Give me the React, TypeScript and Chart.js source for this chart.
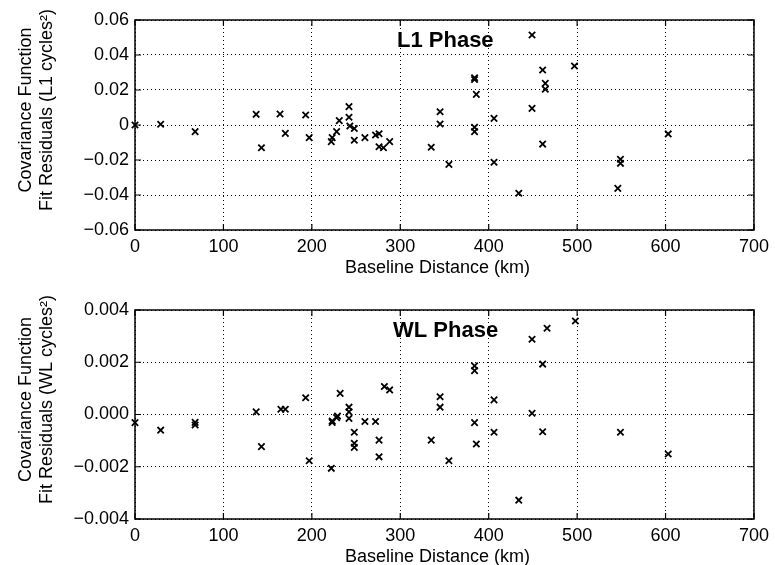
import React, { useEffect, useRef } from "react";
import { Chart, registerables } from "chart.js";

Chart.register(...registerables);

// ---------- data ----------
const kmL1 = [0, 29, 68, 137, 143, 164, 170, 193, 197, 222, 223, 228, 231, 242, 242, 243, 248, 248, 260, 272, 276, 276, 281, 288, 335, 345, 345, 355, 384, 384, 386, 384, 384, 406, 406, 434, 449, 449, 461, 464, 464, 461, 497, 549, 549, 546, 603];
const resL1 = [0, 0.0004, -0.0038, 0.0061, -0.013, 0.0063, -0.0048, 0.0057, -0.0072, -0.0095, -0.0072, -0.0038, 0.0025, 0.0105, 0.0044, -0.0006, -0.002, -0.0087, -0.0072, -0.0057, -0.005, -0.0124, -0.013, -0.0095, -0.0127, 0.0076, 0.0006, -0.0225, 0.027, 0.026, 0.0175, -0.0013, -0.0038, 0.0038, -0.0213, -0.039, 0.0514, 0.0095, 0.0314, 0.0238, 0.0204, -0.0109, 0.0337, -0.0196, -0.0219, -0.0362, -0.0051];

const kmWL = [0, 29, 68, 68, 137, 143, 165, 170, 193, 197, 222, 223, 223, 228, 229, 232, 242, 242, 242, 248, 248, 248, 260, 272, 276, 276, 282, 288, 335, 345, 345, 355, 384, 384, 384, 386, 406, 406, 434, 449, 449, 466, 461, 461, 498, 549, 603];
const resWL = [-0.00031, -0.0006, -0.0003, -0.0004, 0.0001, -0.00123, 0.0002, 0.0002, 0.00064, -0.00177, -0.00206, -0.0003, -0.00025, -0.00012, -0.00006, 0.00081, 0.00028, 0.0001, -0.00015, -0.00068, -0.0011, -0.00126, -0.00027, -0.00027, -0.00098, -0.00162, 0.00107, 0.00094, -0.00098, 0.00068, 0.00028, -0.00177, 0.00186, 0.00168, -0.00031, -0.00113, 0.00056, -0.00068, -0.00328, 0.00288, 0.00005, 0.0033, 0.00193, -0.00066, 0.00358, -0.00068, -0.00151];

const xTicks = [0, 100, 200, 300, 400, 500, 600, 700];
const xTickLabels = ["0", "100", "200", "300", "400", "500", "600", "700"];

const yTicksL1 = [-0.06, -0.04, -0.02, 0, 0.02, 0.04, 0.06];
const yTickLabelsL1 = ["\u22120.06", "\u22120.04", "\u22120.02", "0", "0.02", "0.04", "0.06"];

const yTicksWL = [-0.004, -0.002, 0, 0.002, 0.004];
const yTickLabelsWL = ["\u22120.004", "\u22120.002", "0.000", "0.002", "0.004"];

const xTitle = "Baseline Distance (km)";
const yTitleL1 = ["Covariance Function", "Fit Residuals (L1 cycles\u00B2)"];
const yTitleWL = ["Covariance Function", "Fit Residuals (WL cycles\u00B2)"];

const FONT = "'Liberation Sans', Arial, Helvetica, sans-serif";

type PanelProps = {
  km: number[];
  res: number[];
  yTicks: number[];
  yLabels: string[];
  yTitle: string[];
  label: string;
  labelX: number; // left edge of label in px from chart left
  labelBaseline: number; // px from chart top
  top: number;
  height: number;
  padTop: number;
  xAxisH: number;
};

function Panel(p: PanelProps) {
  const ref = useRef<HTMLCanvasElement | null>(null);
  useEffect(() => {
    if (!ref.current) return;
    const yMin = p.yTicks[0];
    const yMax = p.yTicks[p.yTicks.length - 1];
    const framePlugin = {
      id: "frame",
      afterDraw(chart: any) {
        const ctx = chart.ctx;
        const a = chart.chartArea;
        const xs = chart.scales.x;
        const ys = chart.scales.y;
        ctx.save();
        ctx.strokeStyle = "#000";
        ctx.lineWidth = 1.5;
        ctx.setLineDash([]);
        ctx.strokeRect(a.left, a.top, a.right - a.left, a.bottom - a.top);
        ctx.lineWidth = 1.2;
        const tl = 6;
        ctx.beginPath();
        xTicks.forEach((v) => {
          const x = xs.getPixelForValue(v);
          ctx.moveTo(x, a.bottom);
          ctx.lineTo(x, a.bottom - tl);
          ctx.moveTo(x, a.top);
          ctx.lineTo(x, a.top + tl);
        });
        p.yTicks.forEach((v) => {
          const y = ys.getPixelForValue(v);
          ctx.moveTo(a.left, y);
          ctx.lineTo(a.left + tl, y);
          ctx.moveTo(a.right, y);
          ctx.lineTo(a.right - tl, y);
        });
        ctx.stroke();

        ctx.fillStyle = "#000";
        // x title
        ctx.font = `18px ${FONT}`;
        ctx.textAlign = "center";
        ctx.textBaseline = "middle";
        ctx.fillText(xTitle, (a.left + a.right) / 2 - 7, a.bottom + 38.5);
        // y title (rotated)
        const cy = (a.top + a.bottom) / 2 - 15;
        ctx.save();
        ctx.translate(26, cy);
        ctx.rotate(-Math.PI / 2);
        ctx.fillText(p.yTitle[0], 0, 0);
        ctx.restore();
        ctx.save();
        ctx.translate(47, cy);
        ctx.rotate(-Math.PI / 2);
        ctx.fillText(p.yTitle[1], 0, 0);
        ctx.restore();
        // panel label
        ctx.font = `bold 22px ${FONT}`;
        ctx.textAlign = "left";
        ctx.textBaseline = "alphabetic";
        ctx.fillText(p.label, a.left + p.labelX, a.top + p.labelBaseline);
        ctx.restore();
      },
    };
    const chart = new Chart(ref.current, {
      type: "scatter",
      data: {
        datasets: [
          {
            data: p.km.map((k, i) => ({ x: k, y: p.res[i] })),
            pointStyle: "crossRot",
            pointRadius: 4.5,
            pointBorderWidth: 1.8,
            borderColor: "#000",
            backgroundColor: "#000",
            clip: false as any,
          },
        ],
      },
      options: {
        animation: false,
        responsive: false,
        devicePixelRatio: 1,
        layout: { padding: { top: p.padTop, right: 17, left: 0, bottom: 0 } },
        plugins: { legend: { display: false }, tooltip: { enabled: false } },
        scales: {
          x: {
            type: "linear",
            min: 0,
            max: 700,
            afterBuildTicks: (s: any) => {
              s.ticks = xTicks.map((v) => ({ value: v }));
            },
            afterFit: (s: any) => {
              s.height = p.xAxisH;
            },
            ticks: {
              color: "#000",
              font: { size: 18, family: FONT },
              padding: 6,
              maxRotation: 0,
              autoSkip: false,
              callback: (_v: any, i: number) => xTickLabels[i],
            },
            grid: { color: "#000", lineWidth: 1, drawTicks: false },
            border: { display: false, dash: [1, 3] },
          },
          y: {
            type: "linear",
            min: yMin,
            max: yMax,
            afterBuildTicks: (s: any) => {
              s.ticks = p.yTicks.map((v) => ({ value: v }));
            },
            afterFit: (s: any) => {
              s.width = 135;
            },
            ticks: {
              color: "#000",
              font: { size: 18, family: FONT },
              padding: 6,
              autoSkip: false,
              callback: (_v: any, i: number) => p.yLabels[i],
            },
            grid: { color: "#000", lineWidth: 1, drawTicks: false },
            border: { display: false, dash: [1, 3] },
          },
        },
      },
      plugins: [framePlugin],
    } as any);
    return () => chart.destroy();
  }, []);
  return (
    <canvas
      ref={ref}
      width={775}
      height={p.height}
      style={{ position: "absolute", left: 0, top: p.top, width: 775, height: p.height }}
    />
  );
}

export default function App() {
  return (
    <div style={{ position: "fixed", left: 0, top: 0, width: 775, height: 565, background: "#fff", overflow: "hidden" }}>
      <Panel
        km={kmL1}
        res={resL1}
        yTicks={yTicksL1}
        yLabels={yTickLabelsL1}
        yTitle={yTitleL1}
        label="L1 Phase"
        labelX={262}
        labelBaseline={27}
        top={0}
        height={282}
        padTop={20}
        xAxisH={52}
      />
      <Panel
        km={kmWL}
        res={resWL}
        yTicks={yTicksWL}
        yLabels={yTickLabelsWL}
        yTitle={yTitleWL}
        label="WL Phase"
        labelX={258}
        labelBaseline={27}
        top={282}
        height={283}
        padTop={28}
        xAxisH={46}
      />
    </div>
  );
}
